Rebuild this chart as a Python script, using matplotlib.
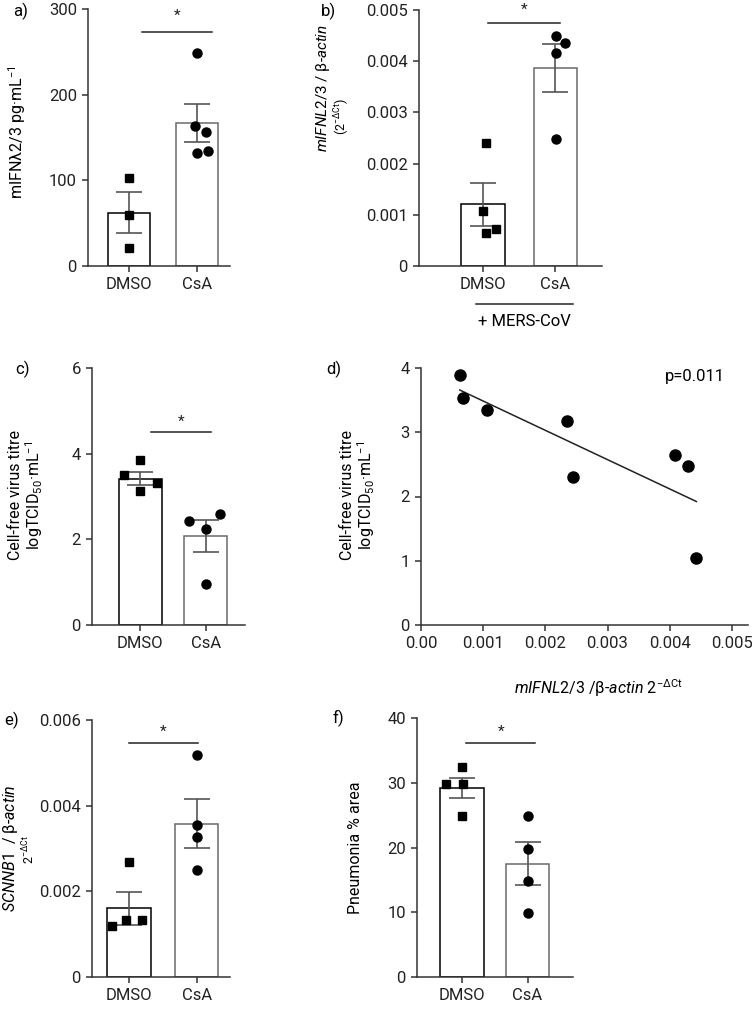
import numpy as np
import matplotlib
matplotlib.use('Agg')
import matplotlib.pyplot as plt

plt.rcParams['font.family'] = ['Roboto', 'DejaVu Sans']
plt.rcParams['font.size'] = 12
plt.rcParams['mathtext.fontset'] = 'custom'
plt.rcParams['mathtext.rm'] = 'Roboto'
plt.rcParams['mathtext.it'] = 'Roboto:italic'

groups = ['DMSO', 'CsA']

# a) mIFNλ2/3 protein
a_mean = [62, 167]
a_sem = [24, 22]
a_dmso = [103, 59, 21]
a_csa = [249, 163, 157, 132, 134]
a_dmso_off = [0, 0, 0]
a_csa_off = [0, -0.03, 0.14, 0, 0.17]

# b) mIFNL2/3 mRNA
b_mean = [0.00121, 0.00387]
b_sem = [0.00042, 0.00047]
b_dmso = [0.0024, 0.00108, 0.00065, 0.00072]
b_csa = [0.0045, 0.00436, 0.00416, 0.00248]
b_dmso_off = [0.04, 0, 0.04, 0.18]
b_csa_off = [0.01, 0.13, 0.01, 0.01]

# c) virus titre
c_mean = [3.42, 2.07]
c_sem = [0.16, 0.37]
c_dmso = [3.50, 3.86, 3.12, 3.31]
c_csa = [2.43, 2.60, 2.24, 0.95]
c_dmso_off = [-0.24, 0, 0, 0.26]
c_csa_off = [-0.25, 0.22, 0, 0]

# d) correlation
d_x = [0.000624, 0.000683, 0.00106, 0.00235, 0.00244, 0.00409, 0.00429, 0.00443]
d_y = [3.89, 3.53, 3.35, 3.18, 2.30, 2.65, 2.48, 1.05]

# e) SCNNB1
e_mean = [0.0016, 0.00358]
e_sem = [0.00038, 0.00057]
e_dmso = [0.00269, 0.00119, 0.00134, 0.00132]
e_csa = [0.00518, 0.00355, 0.00328, 0.00249]
e_dmso_off = [0, -0.25, -0.04, 0.2]
e_csa_off = [0, 0, 0, 0]

# f) pneumonia
f_mean = [29.2, 17.5]
f_sem = [1.6, 3.3]
f_dmso = [29.8, 29.8, 32.5, 24.9]
f_csa = [24.9, 19.8, 14.8, 9.9]
f_dmso_off = [-0.24, 0.01, 0, 0]
f_csa_off = [0, 0, 0, 0]

W, H = 752, 1009
fig = plt.figure(figsize=(W / 100, H / 100), dpi=100)
SPINE = '#333333'
LBL = 11.5


def axbox(l, r, t, b):
    return fig.add_axes([l / W, 1 - b / H, (r - l) / W, (b - t) / H])


def ftext(x, y, s, **kw):
    fig.text(x / W, 1 - y / H, s, **kw)


def style(ax, ymax, yticks):
    for s in ['top', 'right']:
        ax.spines[s].set_visible(False)
    for s in ['left', 'bottom']:
        ax.spines[s].set_color(SPINE)
        ax.spines[s].set_linewidth(1.1)
    ax.spines['left'].set_bounds(0, ymax)
    ax.set_ylim(0, ymax)
    ax.set_yticks(yticks)
    ax.tick_params(colors=SPINE, length=4.5, width=1.1, labelcolor='#222222', labelsize=12)


def bar_panel(ax, mean, sem, dmso, csa, doff, coff, ymax, yticks, xlim, width, sig, star):
    x = np.arange(len(groups))
    ax.bar(x, mean, width=width, color='white', edgecolor=['black', '#6a6a6a'],
           linewidth=1.1, zorder=1)
    ax.errorbar(x, mean, yerr=sem, fmt='none', ecolor='#555555', elinewidth=1.2,
                capsize=9.5, capthick=1.2, zorder=2)
    ax.plot(x[0] + np.array(doff), dmso, 's', color='black', ms=6, zorder=3, clip_on=False)
    ax.plot(x[1] + np.array(coff), csa, 'o', color='black', ms=6.5, zorder=3, clip_on=False)
    ax.plot(sig[:2], [sig[2], sig[2]], color='#222222', lw=1.1, clip_on=False)
    ax.text((sig[0] + sig[1]) / 2, star, '*', ha='center', va='center', fontsize=11,
            color='#222222', clip_on=False)
    ax.set_xlim(*xlim)
    ax.set_xticks(x)
    ax.set_xticklabels(groups)
    style(ax, ymax, yticks)


# a
ax = axbox(88, 230, 9, 266)
bar_panel(ax, a_mean, a_sem, a_dmso, a_csa, a_dmso_off, a_csa_off, 300, [0, 100, 200, 300],
          (-0.6, 1.49), 0.62, (0.195, 1.224, 272.7), 292)
ftext(21, 11, 'a)', ha='center', va='center')
ftext(17, 132, 'mIFNλ2/3 pg·mL$^{-1}$', rotation=90, ha='center', va='center', fontsize=LBL)

# b
ax = axbox(419, 602, 10, 266)
bar_panel(ax, b_mean, b_sem, b_dmso, b_csa, b_dmso_off, b_csa_off, 0.005,
          [0, 0.001, 0.002, 0.003, 0.004, 0.005], (-0.88, 1.645), 0.6,
          (0.078, 1.07, 0.00475), 0.00500)
ax.set_yticklabels(['0', '0.001', '0.002', '0.003', '0.004', '0.005'])
tr = ax.get_xaxis_transform()
ax.plot([-0.09, 1.24], [-0.148, -0.148], color='#222222', lw=1.1, transform=tr, clip_on=False)
ax.text(0.58, -0.215, '+ MERS-CoV', transform=tr, ha='center', va='center', fontsize=12)
ftext(328, 11, 'b)', ha='center', va='center')
ftext(323, 88, r'$\it{mIFNL2/3}$ / β-$\it{actin}$', rotation=90, ha='center', va='center',
      fontsize=11)
ftext(342, 116, r'(2$^{-\Delta\mathrm{Ct}}$)', rotation=90, ha='center', va='center', fontsize=9)

# c
ax = axbox(92, 245, 368, 625)
bar_panel(ax, c_mean, c_sem, c_dmso, c_csa, c_dmso_off, c_csa_off, 6, [0, 2, 4, 6],
          (-0.736, 1.6), 0.66, (0.16, 1.076, 4.5), 4.74)
ftext(22, 369, 'c)', ha='center', va='center')
ftext(16, 495, 'Cell-free virus titre', rotation=90, ha='center', va='center', fontsize=LBL)
ftext(34, 495, 'logTCID$_{50}$·mL$^{-1}$', rotation=90, ha='center', va='center', fontsize=LBL)

# d
ax = axbox(421, 748, 368, 625)
ax.plot(d_x, d_y, 'o', color='black', ms=8, zorder=3)
k, b0 = np.polyfit(d_x, d_y, 1)
xl = np.array([min(d_x), max(d_x)])
ax.plot(xl, k * xl + b0, color='#222222', lw=1.1)
ax.set_xlim(0, 0.00526)
ax.set_xticks([0, 0.001, 0.002, 0.003, 0.004, 0.005])
ax.set_xticklabels(['0.00', '0.001', '0.002', '0.003', '0.004', '0.005'])
ax.spines['bottom'].set_bounds(0, 0.00526)
style(ax, 4, [0, 1, 2, 3, 4])
ax.text(0.0044, 3.87, 'p=0.011', ha='center', va='center', fontsize=12)
ftext(334, 369, 'd)', ha='center', va='center')
ftext(348, 495, 'Cell-free virus titre', rotation=90, ha='center', va='center', fontsize=LBL)
ftext(366, 495, 'logTCID$_{50}$·mL$^{-1}$', rotation=90, ha='center', va='center', fontsize=LBL)
ftext(598, 688, r'$\it{mIFNL2/3}$ /β-$\it{actin}$ 2$^{-\Delta\mathrm{Ct}}$', ha='center',
      va='center', fontsize=LBL)

# e
ax = axbox(92, 230, 720, 977)
bar_panel(ax, e_mean, e_sem, e_dmso, e_csa, e_dmso_off, e_csa_off, 0.006,
          [0, 0.002, 0.004, 0.006], (-0.544, 1.49), 0.64, (0.0, 1.02, 0.00546), 0.00572)
ax.set_yticklabels(['0', '0.002', '0.004', '0.006'])
ftext(12, 720, 'e)', ha='center', va='center')
ftext(11, 848, r'$\it{SCNNB1}$  / β-$\it{actin}$', rotation=90, ha='center', va='center',
      fontsize=LBL)
ftext(29, 850, r'2$^{-\Delta\mathrm{Ct}}$', rotation=90, ha='center', va='center', fontsize=9)

# f
ax = axbox(417, 573, 718, 977)
bar_panel(ax, f_mean, f_sem, f_dmso, f_csa, f_dmso_off, f_csa_off, 40, [0, 10, 20, 30, 40],
          (-0.69, 1.695), 0.67, (0.06, 1.12, 36.1), 37.8)
ftext(338, 718, 'f)', ha='center', va='center')
ftext(355, 848, 'Pneumonia % area', rotation=90, ha='center', va='center', fontsize=LBL)

fig.savefig('out.png', dpi=100)
